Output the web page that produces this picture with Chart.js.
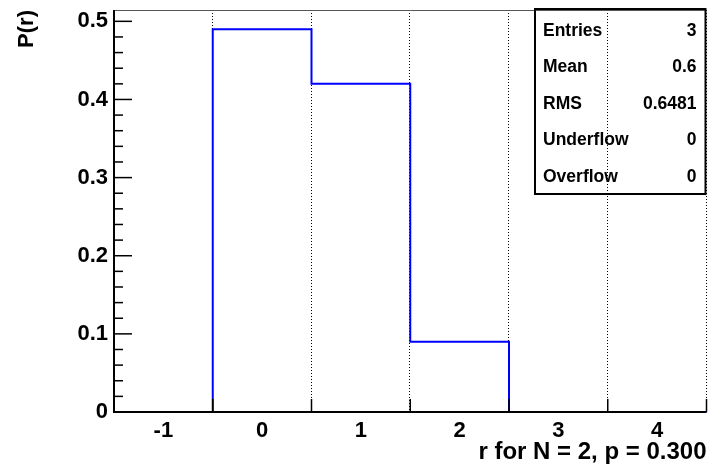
<!DOCTYPE html>
<html>
<head>
<meta charset="utf-8">
<title>Binomial P(r)</title>
<script src="https://cdn.jsdelivr.net/npm/chart.js@4"></script>
<style>
  html, body { margin: 0; padding: 0; background: #fff; }
  #wrap { width: 712px; height: 468px; position: relative; }
</style>
</head>
<body>
<div id="wrap"><canvas id="hist-chart"></canvas></div>
<script>
// bins (r values) and the probability in each
var categories = [-1, 0, 1, 2, 3, 4];
var probs = [0, 0.49, 0.42, 0.09, 0, 0];
var yTicks = [0, 0.1, 0.2, 0.3, 0.4, 0.5];
var yMax = 0.5145;

// stats box contents
var statLabels = ['Entries', 'Mean', 'RMS', 'Underflow', 'Overflow'];
var statValues = ['3', '0.6', '0.6481', '0', '0'];

var FONT = "'Liberation Sans', Arial, Helvetica, sans-serif";

// step outline: one point per bin low edge, plus the last high edge
var points = categories.map(function (c, i) {
    return { x: c - 0.5, y: probs[i] };
});
points.push({ x: categories[categories.length - 1] + 0.5, y: probs[probs.length - 1] });

// ======
// frame, ticks and stats box, ROOT style
// ======
var rootFrame = {
    id: 'rootFrame',
    beforeDatasetsDraw: function (chart) {
        var ctx = chart.ctx, a = chart.chartArea, xs = chart.scales.x;
        ctx.save();
        ctx.strokeStyle = '#000';
        ctx.lineWidth = 1;
        ctx.setLineDash([1, 2]);
        categories.forEach(function (c) {
            var px = Math.round(xs.getPixelForValue(c + 0.5)) - 0.5;
            ctx.beginPath();
            ctx.moveTo(px, a.top);
            ctx.lineTo(px, a.bottom);
            ctx.stroke();
        });
        ctx.restore();
    },
    afterDatasetsDraw: function (chart) {
        var ctx = chart.ctx, a = chart.chartArea;
        var xs = chart.scales.x, ys = chart.scales.y;
        ctx.save();

        // top edge
        ctx.strokeStyle = '#555';
        ctx.lineWidth = 1;
        ctx.beginPath();
        ctx.moveTo(a.left, a.top + 0.5);
        ctx.lineTo(a.right, a.top + 0.5);
        ctx.stroke();

        // y ticks, major every 0.1, minor every 0.02
        ctx.strokeStyle = '#000';
        ctx.lineWidth = 1.5;
        for (var i = 0; i * 0.02 <= yMax + 1e-9; i++) {
            var py = ys.getPixelForValue(i * 0.02);
            var len = (i % 5 === 0) ? 18 : 9;
            ctx.beginPath();
            ctx.moveTo(a.left, py);
            ctx.lineTo(a.left + len, py);
            ctx.stroke();
        }

        // x ticks on bin edges
        categories.forEach(function (c) {
            var px = xs.getPixelForValue(c + 0.5);
            ctx.beginPath();
            ctx.moveTo(px, a.bottom);
            ctx.lineTo(px, a.bottom - 13);
            ctx.stroke();
        });

        // axes
        ctx.lineWidth = 2;
        ctx.beginPath();
        ctx.moveTo(a.left, a.top);
        ctx.lineTo(a.left, a.bottom);
        ctx.lineTo(a.right, a.bottom);
        ctx.stroke();

        // stats box
        var bx = 535, by = 9, bw = 170.5, bh = 185;
        ctx.lineWidth = 2;
        ctx.strokeRect(bx, by, bw, bh);
        ctx.fillStyle = '#000';
        ctx.font = 'bold 17.5px ' + FONT;
        ctx.textBaseline = 'middle';
        statLabels.forEach(function (lab, k) {
            var ty = by + 22 + k * 36.5;
            ctx.textAlign = 'left';
            ctx.fillText(lab, bx + 8, ty);
            ctx.textAlign = 'right';
            ctx.fillText(statValues[k], bx + bw - 9, ty);
        });
        ctx.restore();
    }
};

function noPad(scale) {
    scale.paddingTop = 0;
    scale.paddingBottom = 0;
    scale.paddingLeft = 0;
    scale.paddingRight = 0;
}

var chart = new Chart(document.getElementById('hist-chart'), {
    type: 'line',
    data: {
        datasets: [{
            label: 'P(r)',
            data: points,
            stepped: true,
            borderColor: '#0000ff',
            borderWidth: 2,
            fill: false,
            pointRadius: 0,
            clip: 4
        }]
    },
    options: {
        responsive: true,
        maintainAspectRatio: false,
        animation: false,
        devicePixelRatio: 1,
        layout: { padding: { top: 10, right: 5.5, left: 0, bottom: 0 } },
        plugins: {
            legend: { display: false },
            tooltip: { enabled: false }
        },
        scales: {
            x: {
                type: 'linear',
                min: categories[0] - 0.5,
                max: categories[categories.length - 1] + 0.5,
                afterBuildTicks: function (scale) {
                    scale.ticks = categories.map(function (c) { return { value: c }; });
                },
                afterFit: function (scale) {
                    scale.height = 56;
                    noPad(scale);
                },
                grid: { display: false, drawTicks: false },
                border: { display: false },
                ticks: {
                    padding: 6,
                    maxRotation: 0,
                    autoSkip: false,
                    color: '#000',
                    font: { family: FONT, size: 22, weight: 'bold' },
                    callback: function (v) { return String(v); }
                },
                title: {
                    display: true,
                    text: 'r for N = 2, p = 0.300',
                    align: 'end',
                    color: '#000',
                    font: { family: FONT, size: 24, weight: 'bold' },
                    padding: { top: 0, bottom: 1 }
                }
            },
            y: {
                min: 0,
                max: yMax,
                afterBuildTicks: function (scale) {
                    scale.ticks = yTicks.map(function (v) { return { value: v }; });
                },
                afterFit: function (scale) {
                    scale.width = 114;
                    noPad(scale);
                },
                grid: { display: false, drawTicks: false },
                border: { display: false },
                ticks: {
                    padding: 6,
                    color: '#000',
                    font: { family: FONT, size: 22, weight: 'bold' },
                    callback: function (v) { return v === 0 ? '0' : v.toFixed(1); }
                },
                title: {
                    display: true,
                    text: 'P(r)',
                    align: 'end',
                    color: '#000',
                    font: { family: FONT, size: 22, weight: 'bold' },
                    padding: { top: 14, bottom: 0 }
                }
            }
        }
    },
    plugins: [rootFrame]
});
</script>
</body>
</html>
